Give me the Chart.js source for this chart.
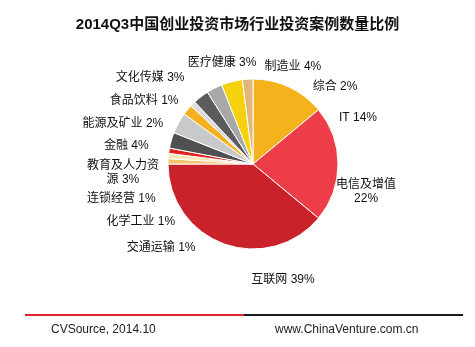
<!DOCTYPE html>
<html>
<head>
<meta charset="utf-8">
<title>2014Q3中国创业投资市场行业投资案例数量比例</title>
<script src="https://cdn.jsdelivr.net/npm/chart.js"></script>
<style>
  body { margin: 0; background: #fff; }
  #wrap { position: relative; width: 475px; height: 347px; overflow: hidden; }
  #chart { position: absolute; left: 0; top: 0; }
  #title {
    position: absolute; top: 12px; left: 0; width: 475px; text-align: center;
    font: bold 15px "Liberation Sans", "Noto Sans CJK SC"; color: #111;
  }
  .rule { position: absolute; top: 314px; height: 2px; }
  .foot { position: absolute; top: 322px; font: 12px "Liberation Sans", Arial; color: #222; }
</style>
</head>
<body>
<div id="wrap">
  <canvas id="chart" width="475" height="347"></canvas>
  <div id="title">2014Q3中国创业投资市场行业投资案例数量比例</div>
  <div class="rule" style="left:25px; width:219px; background:#e0262c;"></div>
  <div class="rule" style="left:244px; width:219px; background:#1a1a1a;"></div>
  <div class="foot" style="left:51px;">CVSource, 2014.10</div>
  <div class="foot" style="left:275px;">www.ChinaVenture.com.cn</div>
</div>

<script>
// data, clockwise from 12 o'clock
const categories = ['IT', '电信及增值', '互联网', '交通运输', '化学工业', '连锁经营', '教育及人力资源',
                    '金融', '能源及矿业', '食品饮料', '文化传媒', '医疗健康', '制造业', '综合'];
const shares = [14, 22, 39, 1, 1, 1, 3, 4, 2, 1, 3, 3, 4, 2];

const sliceColors = ['#f6b21c', '#ec3d48', '#c9222b', '#f2c46c', '#fbe6b8', '#e3211f', '#505052',
                     '#c8c9cb', '#f7b11e', '#dadada', '#5c5c5e', '#a6a8aa', '#f6d20e', '#e2b679'];

// label placement, relative to pie centre in units of radius
const labelX = [1.235, 1.33, 0.353, -1.08, -1.32, -1.55, -1.53, -1.49, -1.53, -1.28, -1.21, -0.365, 0.47, 0.965];
const labelY = [-0.54, 0.33, 1.365, 0.99, 0.68, 0.41, 0.1, -0.21, -0.48, -0.74, -1.01, -1.19, -1.15, -0.906];
// where a label wraps to a second line (0 = single line)
const labelBreak = [0, 5, 0, 0, 0, 0, 6, 0, 0, 0, 0, 0, 0, 0];

const sliceLabels = {
  id: 'sliceLabels',
  afterDatasetsDraw(chart) {
    const arc = chart.getDatasetMeta(0).data[0];
    const cx = arc.x, cy = arc.y, r = arc.outerRadius;
    const ctx = chart.ctx;
    ctx.save();
    ctx.font = '12px "Liberation Sans", "Noto Sans CJK SC"';
    ctx.fillStyle = '#111';
    ctx.textAlign = 'center';
    ctx.textBaseline = 'middle';
    categories.forEach(function(name, i) {
      let text = name + ' ' + shares[i] + '%';
      let lines = [text];
      if (labelBreak[i] > 0) {
        lines = [text.slice(0, labelBreak[i]).trim(), text.slice(labelBreak[i]).trim()];
      }
      const x = cx + labelX[i] * r;
      const y = cy + labelY[i] * r;
      const lh = 14;
      const top = y - (lines.length - 1) * lh / 2;
      lines.forEach(function(l, k) {
        ctx.fillText(l, x, top + k * lh);
      });
    });
    ctx.restore();
  }
};

new Chart(document.getElementById('chart'), {
  type: 'pie',
  data: {
    labels: categories,
    datasets: [{
      data: shares,
      backgroundColor: sliceColors,
      borderColor: '#ffffff',
      borderWidth: 1
    }]
  },
  options: {
    responsive: false,
    animation: false,
    radius: 85,
    layout: { padding: { left: 150, right: 119, top: 70, bottom: 89 } },
    plugins: {
      legend: { display: false },
      tooltip: { enabled: false }
    }
  },
  plugins: [sliceLabels]
});
</script>
</body>
</html>
